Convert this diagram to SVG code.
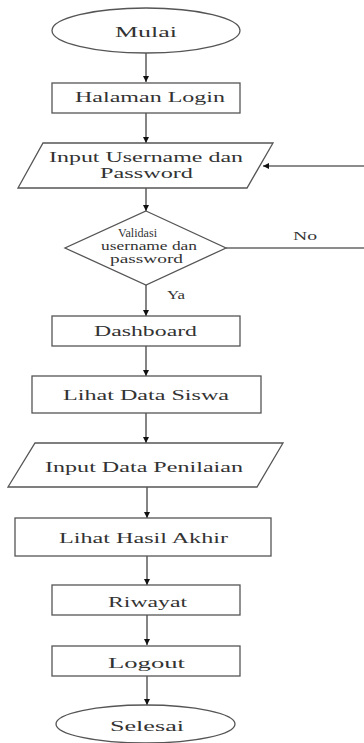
<svg xmlns="http://www.w3.org/2000/svg" width="364" height="743" viewBox="0 0 364 743">
<style>
.s{fill:#fff;stroke:#555;stroke-width:1.3}
.c{fill:none;stroke:#666;stroke-width:1.6}
text{font-family:"Liberation Serif","DejaVu Serif","Times New Roman",serif;fill:#333}
.t{font-size:15px}
.d{font-size:12px}
.l{font-size:12px}
</style>
<defs>
<marker id="ah" viewBox="0 0 10 10" refX="10" refY="5" markerWidth="6" markerHeight="6" markerUnits="userSpaceOnUse" orient="auto">
<path d="M0,0 L10,5 L0,10 z" fill="#111"/>
</marker>
</defs>
<rect width="364" height="743" fill="#fff"/>
<g id="connectors">
<line class="c" x1="146" y1="53" x2="146" y2="82" marker-end="url(#ah)"/>
<line class="c" x1="146" y1="113" x2="146" y2="143" marker-end="url(#ah)"/>
<line class="c" x1="146" y1="188" x2="146" y2="211" marker-end="url(#ah)"/>
<line class="c" x1="226" y1="248" x2="364" y2="248"/>
<line class="c" x1="364" y1="166" x2="263" y2="166" marker-end="url(#ah)"/>
<line class="c" x1="146" y1="285" x2="146" y2="316" marker-end="url(#ah)"/>
<line class="c" x1="146" y1="346" x2="146" y2="376" marker-end="url(#ah)"/>
<line class="c" x1="146" y1="413" x2="146" y2="443" marker-end="url(#ah)"/>
<line class="c" x1="147" y1="487" x2="147" y2="518" marker-end="url(#ah)"/>
<line class="c" x1="147" y1="556" x2="147" y2="585" marker-end="url(#ah)"/>
<line class="c" x1="147" y1="615" x2="147" y2="645" marker-end="url(#ah)"/>
<line class="c" x1="147" y1="676" x2="147" y2="705" marker-end="url(#ah)"/>
<text class="l" x="293" y="240" textLength="24" lengthAdjust="spacingAndGlyphs">No</text>
<text class="l" x="167" y="299" textLength="18" lengthAdjust="spacingAndGlyphs">Ya</text>
</g>
<g id="mulai">
<ellipse class="s" cx="146" cy="30.5" rx="94" ry="22.5"/>
<text class="t" x="115" y="37" textLength="62" lengthAdjust="spacingAndGlyphs">Mulai</text>
</g>
<g id="halaman-login">
<rect class="s" x="52" y="83" width="188" height="30"/>
<text class="t" x="75" y="102" textLength="150" lengthAdjust="spacingAndGlyphs">Halaman Login</text>
</g>
<g id="input-username">
<polygon class="s" points="43,143 273,143 247,188 18,188"/>
<text class="t" x="49" y="162" textLength="194" lengthAdjust="spacingAndGlyphs">Input Username dan</text>
<text class="t" x="100" y="178" textLength="93" lengthAdjust="spacingAndGlyphs">Password</text>
</g>
<g id="validasi">
<polygon class="s" points="146,211 226,248 146,285 65,248"/>
<text class="d" x="118" y="237" textLength="39" lengthAdjust="spacingAndGlyphs">Validasi</text>
<text class="d" x="101" y="250" textLength="96" lengthAdjust="spacingAndGlyphs">username dan</text>
<text class="d" x="110" y="263" textLength="73" lengthAdjust="spacingAndGlyphs">password</text>
</g>
<g id="dashboard">
<rect class="s" x="52" y="316" width="188" height="30"/>
<text class="t" x="94" y="336" textLength="103" lengthAdjust="spacingAndGlyphs">Dashboard</text>
</g>
<g id="lihat-data-siswa">
<rect class="s" x="32" y="376" width="229" height="37"/>
<text class="t" x="63" y="400" textLength="166" lengthAdjust="spacingAndGlyphs">Lihat Data Siswa</text>
</g>
<g id="input-data-penilaian">
<polygon class="s" points="35,443 283,443 257,487 8,487"/>
<text class="t" x="45" y="472" textLength="198" lengthAdjust="spacingAndGlyphs">Input Data Penilaian</text>
</g>
<g id="lihat-hasil-akhir">
<rect class="s" x="15" y="518" width="256" height="38"/>
<text class="t" x="59" y="543" textLength="169" lengthAdjust="spacingAndGlyphs">Lihat Hasil Akhir</text>
</g>
<g id="riwayat">
<rect class="s" x="52" y="585" width="188" height="30"/>
<text class="t" x="108" y="607" textLength="79" lengthAdjust="spacingAndGlyphs">Riwayat</text>
</g>
<g id="logout">
<rect class="s" x="52" y="646" width="188" height="30"/>
<text class="t" x="108" y="668" textLength="77" lengthAdjust="spacingAndGlyphs">Logout</text>
</g>
<g id="selesai">
<ellipse class="s" cx="145.5" cy="724" rx="89.5" ry="19"/>
<text class="t" x="110" y="731" textLength="74" lengthAdjust="spacingAndGlyphs">Selesai</text>
</g>
</svg>
